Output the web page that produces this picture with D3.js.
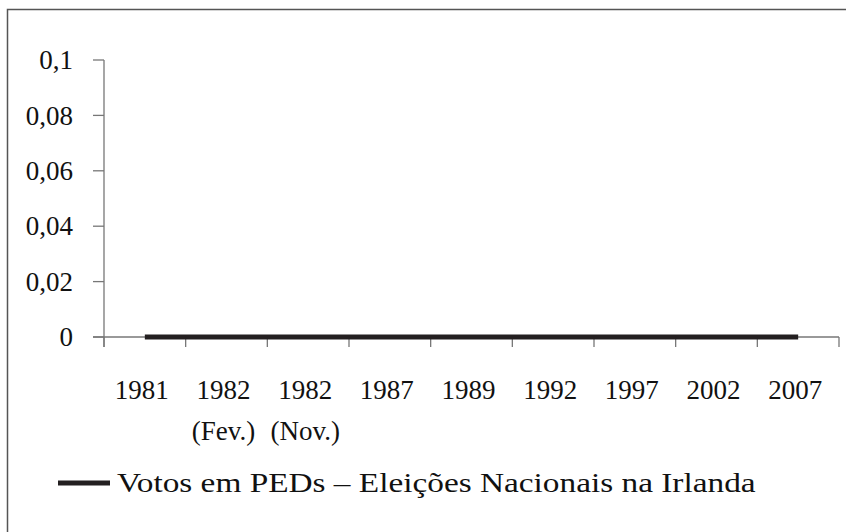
<!DOCTYPE html>
<html><head><meta charset="utf-8">
<script src="https://cdn.jsdelivr.net/npm/d3@7"></script>
<style>body{margin:0;background:#fff}svg{display:block}text{font-family:"Liberation Serif","DejaVu Serif",serif;fill:#111}</style>
</head><body>
<script>
const categories = [["1981"],["1982","(Fev.)"],["1982","(Nov.)"],["1987"],["1989"],["1992"],["1997"],["2002"],["2007"]];
const values = [0,0,0,0,0,0,0,0,0];
const yTicks = [0,0.02,0.04,0.06,0.08,0.1];
const yTickLabels = ["0","0,02","0,04","0,06","0,08","0,1"];
const seriesName = "Votos em PEDs – Eleições Nacionais na Irlanda";

const W=846,H=532;
const svg=d3.select("body").append("svg").attr("width",W).attr("height",H);
svg.append("rect").attr("x",7.5).attr("y",9.5).attr("width",900).attr("height",600)
  .attr("fill","none").attr("stroke","#555").attr("stroke-width",1.5);

const x=d3.scaleBand().domain(d3.range(categories.length)).range([104,839]);
const y=d3.scaleLinear().domain([0,0.1]).range([337,60]);
const fs=27;

// y axis
const g=svg.append("g");
g.append("line").attr("x1",104).attr("x2",104).attr("y1",y(0.1)).attr("y2",y(0)+10).attr("stroke","#777").attr("stroke-width",1.3);
yTicks.forEach((t,i)=>{
  g.append("line").attr("x1",93).attr("x2",104).attr("y1",y(t)).attr("y2",y(t)).attr("stroke","#777").attr("stroke-width",1.3);
  g.append("text").attr("x",73).attr("y",y(t)).attr("dy","0.34em").attr("text-anchor","end").attr("font-size",fs).text(yTickLabels[i]);
});
// x axis
g.append("line").attr("x1",93).attr("x2",839).attr("y1",y(0)).attr("y2",y(0)).attr("stroke","#777").attr("stroke-width",1.3);
d3.range(categories.length+1).forEach(i=>{
  const xx = i<categories.length ? x(i) : x.range()[1];
  g.append("line").attr("x1",xx).attr("x2",xx).attr("y1",y(0)).attr("y2",y(0)+10).attr("stroke","#777").attr("stroke-width",1.3);
});
categories.forEach((c,i)=>{
  c.forEach((s,j)=>{
    g.append("text").attr("x",x(i)+x.bandwidth()/2-3).attr("y",399+j*41).attr("text-anchor","middle").attr("font-size",fs).text(s);
  });
});
// series line
const line=d3.line().x((d,i)=>x(i)+x.bandwidth()/2).y(d=>y(d));
svg.append("path").datum(values).attr("d",line).attr("fill","none").attr("stroke","#231f20").attr("stroke-width",5);
// legend
svg.append("line").attr("x1",58).attr("x2",110).attr("y1",483).attr("y2",483).attr("stroke","#231f20").attr("stroke-width",5);
svg.append("text").attr("transform","translate(117,492) scale(1.19,1)").attr("font-size",28).text(seriesName);
</script>
</body></html>
